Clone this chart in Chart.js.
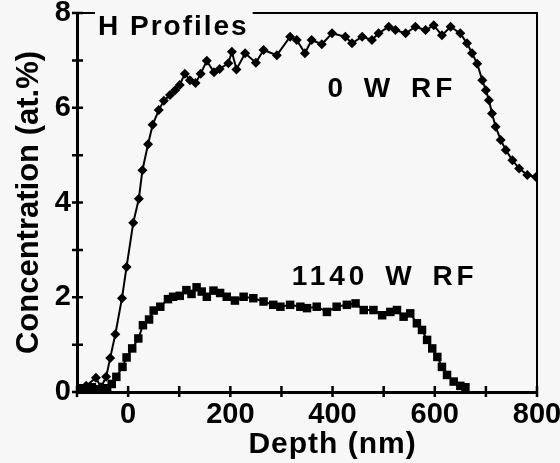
<!DOCTYPE html>
<html>
<head>
<meta charset="utf-8">
<script src="https://cdn.jsdelivr.net/npm/chart.js@4/dist/chart.umd.min.js"></script>
<style>
  html, body { margin: 0; padding: 0; background: #f7f7f7; }
  #box { width: 560px; height: 463px; }
</style>
</head>
<body>
<div id="box"><canvas id="hProfiles"></canvas></div>
<script>
// 0 W RF (diamonds)
const depth0W = [-98, -82, -63, -53, -43, -35, -25, -12, -3, 10, 21, 28, 39, 48, 60, 70, 82, 92, 101, 111,
    121, 132, 142, 154, 168, 179, 196, 203, 212, 229, 250, 265, 291, 317, 330, 346, 359, 379, 399, 425,
    438, 458, 477, 490, 510, 523, 543, 562, 582, 598, 614, 631, 650, 663, 673, 683, 693, 700, 706, 712,
    719, 729, 739, 752, 765, 781, 798];
const conc0W = [0.08, 0.13, 0.30, 0.10, 0.32, 0.72, 1.22, 1.98, 2.64, 3.57, 4.08, 4.68, 5.23, 5.64, 5.95, 6.15, 6.27, 6.37, 6.48, 6.72,
    6.58, 6.52, 6.72, 6.99, 6.75, 6.82, 6.94, 7.18, 6.81, 7.15, 6.95, 7.22, 7.11, 7.50, 7.43, 7.15, 7.43, 7.34, 7.57, 7.50,
    7.36, 7.50, 7.43, 7.57, 7.71, 7.64, 7.57, 7.71, 7.64, 7.74, 7.53, 7.71, 7.57, 7.36, 7.15, 6.93, 6.58, 6.37, 6.16, 5.88,
    5.60, 5.32, 5.11, 4.89, 4.72, 4.58, 4.54];

// 1140 W RF (squares)
const depth1140W = [-100, -90, -80, -71, -61, -51, -41, -32, -23, -11, -3, 8, 20, 29, 41, 50, 63, 78, 88, 101,
    114, 124, 134, 144, 154, 167, 180, 193, 209, 226, 245, 265, 284, 298, 317, 337, 350, 369, 389, 408,
    428, 445, 461, 480, 497, 513, 526, 539, 552, 565, 575, 585, 595, 605, 614, 624, 637, 650, 660];
const conc1140W = [0.04, 0.08, 0.06, 0.10, 0.06, 0.04, 0.08, 0.17, 0.32, 0.53, 0.73, 0.92, 1.13, 1.41, 1.53, 1.72, 1.80, 1.96, 2.01, 2.03,
    2.15, 2.07, 2.21, 2.12, 2.01, 2.14, 2.09, 2.01, 1.93, 2.01, 1.98, 1.91, 1.84, 1.80, 1.84, 1.80, 1.77, 1.80, 1.69, 1.80,
    1.84, 1.87, 1.73, 1.73, 1.62, 1.69, 1.73, 1.59, 1.66, 1.45, 1.31, 1.10, 0.92, 0.74, 0.53, 0.36, 0.22, 0.13, 0.10];

const xTickLabels = [0, 200, 400, 600, 800];
const yTickLabels = [0, 2, 4, 6, 8];

const FONT = '"Liberation Sans", Arial, sans-serif';
Chart.defaults.font.family = FONT;
Chart.defaults.color = '#000';

function toPoints(xs, ys) {
    return xs.map((v, i) => ({ x: v, y: ys[i] }));
}

// frame, crossing tick marks and the text labels inside the plot
const frameAndText = {
    id: 'frameAndText',
    afterDraw(chart) {
        const { ctx, chartArea: a, scales: { x, y } } = chart;
        ctx.save();
        ctx.strokeStyle = '#000';
        ctx.fillStyle = '#000';
        ctx.lineWidth = 2.5;
        ctx.beginPath();
        x.ticks.forEach(t => {
            const px = x.getPixelForValue(t.value);
            ctx.moveTo(px, a.bottom - 6);
            ctx.lineTo(px, a.bottom + 5);
        });
        y.ticks.forEach(t => {
            const py = y.getPixelForValue(t.value);
            ctx.moveTo(a.left - 5, py);
            ctx.lineTo(a.left + 6, py);
        });
        ctx.stroke();

        // H Profiles, with the top line broken around it
        ctx.font = 'bold 28px ' + FONT;
        ctx.letterSpacing = '2px';
        ctx.textBaseline = 'alphabetic';
        ctx.textAlign = 'left';
        const hx = x.getPixelForValue(-59);
        const hw = ctx.measureText('H Profiles').width;
        ctx.fillText('H Profiles', hx, y.getPixelForValue(7.53));

        ctx.lineWidth = 2;
        ctx.beginPath();
        ctx.moveTo(a.left, a.top);
        ctx.lineTo(hx - 3, a.top);
        ctx.moveTo(hx + hw + 4, a.top);
        ctx.lineTo(a.right, a.top);
        ctx.lineTo(a.right, a.bottom);
        ctx.stroke();

        // series labels
        ctx.letterSpacing = '4px';
        ctx.wordSpacing = '5px';
        ctx.fillText('0 W RF', x.getPixelForValue(390), y.getPixelForValue(6.22));
        ctx.fillText('1140 W RF', x.getPixelForValue(320), y.getPixelForValue(2.26));

        // x axis title
        ctx.font = 'bold 30px ' + FONT;
        ctx.letterSpacing = '1px';
        ctx.wordSpacing = '0px';
        ctx.textAlign = 'center';
        ctx.fillText('Depth (nm)', x.getPixelForValue(400), a.bottom + 61);
        ctx.restore();
    }
};

new Chart('hProfiles', {
    type: 'scatter',
    data: {
        datasets: [{
            label: '0 W RF',
            data: toPoints(depth0W, conc0W),
            showLine: true,
            borderColor: '#000',
            backgroundColor: '#000',
            borderWidth: 2,
            pointStyle: 'rectRot',
            pointRadius: 5,
            pointBorderWidth: 0
        }, {
            label: '1140 W RF',
            data: toPoints(depth1140W, conc1140W),
            showLine: true,
            borderColor: '#000',
            backgroundColor: '#000',
            borderWidth: 2,
            pointStyle: 'rect',
            pointRadius: 6,
            pointBorderWidth: 0
        }]
    },
    options: {
        responsive: true,
        maintainAspectRatio: false,
        animation: false,
        layout: {
            padding: { left: 0, right: 23, top: 13, bottom: 0 }
        },
        plugins: {
            legend: { display: false },
            tooltip: { enabled: false }
        },
        scales: {
            x: {
                type: 'linear',
                min: -100,
                max: 800,
                border: { display: true, color: '#000', width: 3 },
                grid: { display: true, drawOnChartArea: false, drawTicks: false },
                ticks: {
                    stepSize: 100,
                    padding: 6,
                    maxRotation: 0,
                    autoSkip: false,
                    font: { size: 29, weight: 'bold' },
                    callback: v => xTickLabels.includes(v) ? v : ''
                },
                afterFit: s => {
                    s.height = 71;
                    s.paddingLeft = 0;
                    s.paddingRight = 0;
                }
            },
            y: {
                min: 0,
                max: 8,
                border: { display: true, color: '#000', width: 3 },
                grid: { display: true, drawOnChartArea: false, drawTicks: false },
                ticks: {
                    stepSize: 1,
                    padding: 6,
                    autoSkip: false,
                    font: { size: 29, weight: 'bold' },
                    callback: v => yTickLabels.includes(v) ? v : ''
                },
                title: {
                    display: true,
                    text: 'Concentration (at.%)',
                    font: { size: 31, weight: 'bold' },
                    padding: { top: 11, bottom: 0 }
                },
                afterFit: s => {
                    s.width = 77;
                    s.paddingTop = 0;
                    s.paddingBottom = 0;
                }
            }
        }
    },
    plugins: [frameAndText]
});
</script>
</body>
</html>
